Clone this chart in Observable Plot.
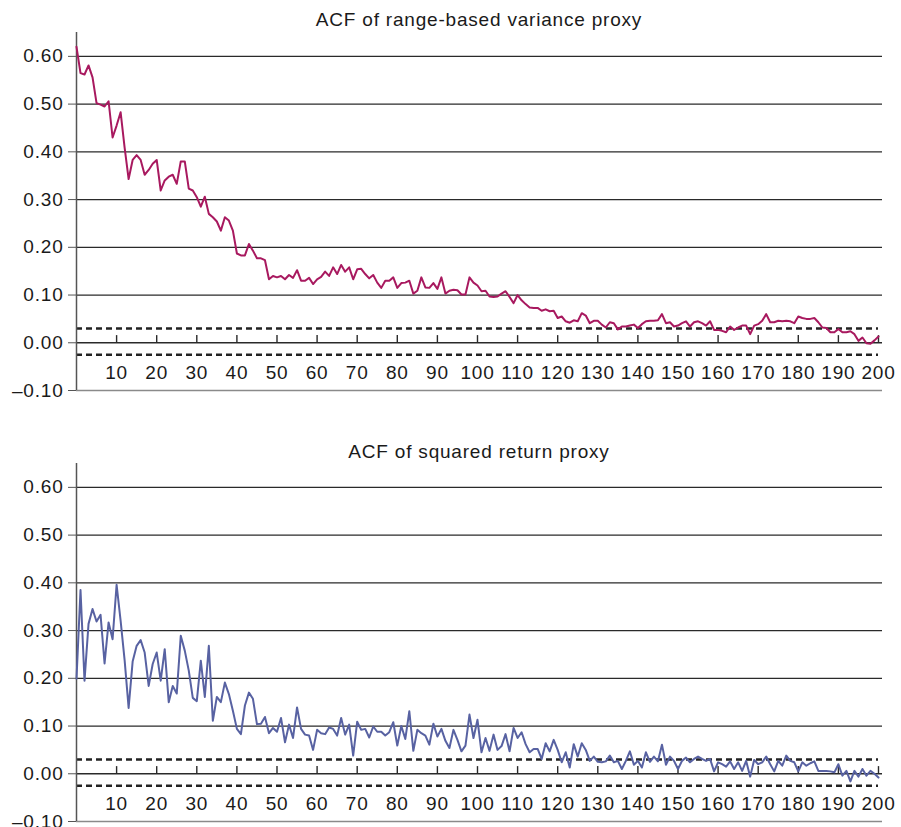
<!DOCTYPE html>
<html>
<head>
<meta charset="utf-8">
<script src="https://cdn.jsdelivr.net/npm/d3@7"></script>
<script src="https://cdn.jsdelivr.net/npm/@observablehq/plot@0.6"></script>
<style>
  html, body { margin: 0; padding: 0; background: #fff; }
  #wrap { position: relative; width: 901px; height: 827px; background: #fff; overflow: hidden; }
  .title { position: absolute; left: 76px; width: 806px; text-align: center; z-index: 2;
           font-family: "Liberation Sans", Arial, Helvetica, sans-serif; font-size: 19px;
           letter-spacing: 0.8px; color: #1a1a1a; line-height: 22px; }
  .chart { position: absolute; left: 0; z-index: 1; }
</style>
</head>
<body>
<div id="wrap">
  <div class="title" id="t1" style="top:9px"></div>
  <div class="chart" id="c1" style="top:26px"></div>
  <div class="title" id="t2" style="top:441px"></div>
  <div class="chart" id="c2" style="top:457px"></div>
</div>
<script>
// ---- data ----
const titles = ["ACF of range-based variance proxy", "ACF of squared return proxy"];
const lags = d3.range(0, 201);
const rangeAcf = [
0.620,0.565,0.562,0.581,0.556,0.502,0.499,0.495,0.506,0.430,
0.455,0.483,0.409,0.343,0.383,0.393,0.383,0.352,0.362,0.375,
0.383,0.319,0.340,0.348,0.352,0.333,0.380,0.380,0.323,0.319,
0.305,0.285,0.306,0.270,0.263,0.254,0.235,0.263,0.256,0.235,
0.187,0.183,0.183,0.207,0.193,0.177,0.177,0.173,0.133,0.140,
0.137,0.140,0.133,0.142,0.136,0.152,0.130,0.130,0.136,0.123,
0.133,0.138,0.149,0.140,0.158,0.144,0.163,0.149,0.158,0.133,
0.154,0.155,0.144,0.135,0.142,0.126,0.115,0.130,0.130,0.137,
0.115,0.125,0.126,0.130,0.103,0.109,0.137,0.116,0.115,0.125,
0.113,0.137,0.103,0.109,0.111,0.110,0.101,0.101,0.137,0.126,
0.120,0.108,0.109,0.097,0.096,0.097,0.103,0.108,0.096,0.083,
0.100,0.089,0.081,0.074,0.073,0.073,0.067,0.070,0.066,0.067,
0.052,0.055,0.045,0.042,0.047,0.045,0.062,0.057,0.041,0.046,
0.046,0.038,0.032,0.043,0.041,0.028,0.034,0.034,0.036,0.038,
0.031,0.039,0.045,0.046,0.046,0.047,0.060,0.041,0.043,0.034,
0.036,0.041,0.045,0.034,0.043,0.045,0.041,0.036,0.045,0.027,
0.027,0.025,0.022,0.034,0.027,0.032,0.036,0.036,0.018,0.036,
0.039,0.046,0.060,0.043,0.043,0.046,0.045,0.046,0.045,0.041,
0.055,0.052,0.050,0.050,0.052,0.043,0.032,0.031,0.022,0.022,
0.029,0.022,0.022,0.024,0.018,0.004,0.011,-0.001,-0.002,0.005,
0.013];
const squaredAcf = [
0.199,0.385,0.195,0.314,0.345,0.319,0.333,0.231,0.317,0.282,
0.396,0.321,0.238,0.138,0.235,0.268,0.280,0.254,0.184,0.230,
0.254,0.195,0.261,0.150,0.184,0.168,0.289,0.258,0.216,0.159,
0.152,0.237,0.161,0.268,0.111,0.161,0.150,0.191,0.167,0.132,
0.094,0.083,0.143,0.170,0.157,0.104,0.105,0.119,0.085,0.096,
0.088,0.117,0.066,0.103,0.075,0.139,0.094,0.082,0.080,0.050,
0.092,0.085,0.083,0.097,0.094,0.080,0.117,0.082,0.103,0.038,
0.109,0.092,0.094,0.076,0.099,0.088,0.088,0.080,0.087,0.108,
0.059,0.100,0.073,0.131,0.048,0.092,0.085,0.080,0.061,0.105,
0.078,0.094,0.069,0.054,0.092,0.071,0.047,0.059,0.124,0.075,
0.113,0.045,0.075,0.048,0.082,0.050,0.058,0.083,0.047,0.096,
0.075,0.087,0.062,0.045,0.052,0.052,0.031,0.064,0.047,0.071,
0.050,0.024,0.045,0.013,0.062,0.036,0.064,0.050,0.027,0.036,
0.025,0.024,0.026,0.038,0.024,0.027,0.010,0.027,0.047,0.019,
0.027,0.013,0.045,0.025,0.036,0.026,0.061,0.019,0.036,0.027,
0.010,0.027,0.034,0.024,0.031,0.036,0.031,0.027,0.031,0.005,
0.024,0.020,0.015,0.026,0.010,0.024,0.006,0.027,-0.006,0.029,
0.020,0.024,0.036,0.020,0.005,0.027,0.017,0.038,0.027,0.024,
0.005,0.024,0.017,0.022,0.026,0.006,0.006,0.006,0.005,0.003,
0.020,-0.004,0.006,-0.016,0.006,-0.006,0.010,-0.004,0.006,0.000,
-0.008];
const yTicks = [-0.10, 0.00, 0.10, 0.20, 0.30, 0.40, 0.50, 0.60];
const gridTicks = [0.10, 0.20, 0.30, 0.40, 0.50, 0.60];
const xTicks = [10,20,30,40,50,60,70,80,90,100,110,120,130,140,150,160,170,180,190,200];
const bands = [0.030, -0.025];
const colors = ["#a8195f", "#5862a2"];

const fmt = d => d.toFixed(2).replace("-", "\u2013");

function makeChart(values, color) {
  const data = lags.map((lag, i) => ({lag, acf: values[i]}));
  return Plot.plot({
    width: 901,
    height: 374,
    marginTop: 6,
    marginBottom: 10,
    marginLeft: 76,
    marginRight: 19,
    style: {
      fontFamily: "'Liberation Sans', Arial, Helvetica, sans-serif",
      fontSize: "19px",
      letterSpacing: "0.8px",
      background: "transparent",
      color: "#1a1a1a",
      overflow: "visible"
    },
    x: {domain: [0, 201], axis: null},
    y: {domain: [-0.10, 0.65], axis: null},
    marks: [
      Plot.ruleY(gridTicks, {stroke: "#2a2a2a", strokeWidth: 1.2}),
      Plot.ruleY([-0.10], {stroke: "#8a8a8a", strokeWidth: 1.5}),
      Plot.ruleY(bands, {x1: 0, x2: 200, stroke: "#222", strokeWidth: 2.6, strokeDasharray: "6,4"}),
      Plot.ruleY([0], {stroke: "#2a2a2a", strokeWidth: 1.4}),
      Plot.ruleX(xTicks, {x: d => d, y1: 0, y2: 0.015, stroke: "#2a2a2a", strokeWidth: 1.4}),
      Plot.ruleX([0], {stroke: "#555", strokeWidth: 1.5}),
      Plot.line(data, {x: "lag", y: "acf", stroke: color, strokeWidth: 2, strokeLinejoin: "round"}),
      Plot.axisY(yTicks, {tickSize: 8, tickPadding: 5, tickFormat: fmt, label: null, stroke: "#555", fontSize: 19}),
      Plot.text(xTicks, {x: d => d, y: 0, dy: 30, text: d => String(d), fontSize: 19, fill: "#1a1a1a"})
    ]
  });
}

document.getElementById("t1").textContent = titles[0];
document.getElementById("t2").textContent = titles[1];
document.getElementById("c1").appendChild(makeChart(rangeAcf, colors[0]));
document.getElementById("c2").appendChild(makeChart(squaredAcf, colors[1]));
</script>
</body>
</html>
